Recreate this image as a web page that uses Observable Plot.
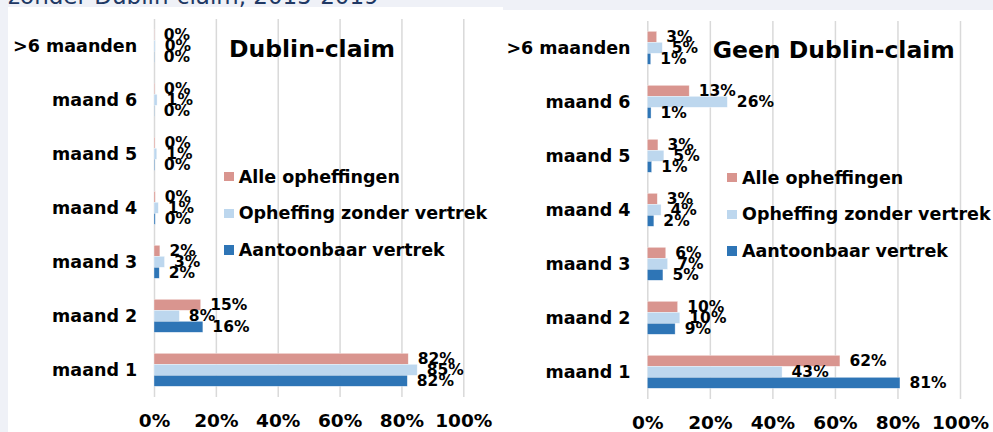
<!DOCTYPE html>
<html>
<head>
<meta charset="utf-8">
<script src="https://cdn.jsdelivr.net/npm/d3@7"></script>
<script src="https://cdn.jsdelivr.net/npm/@observablehq/plot@0.6"></script>
<style>
html, body { margin: 0; padding: 0; background: #eff1f7; }
#root { position: relative; width: 993px; height: 432px; overflow: hidden; background: #eff1f7; font-family: "DejaVu Sans", Verdana, sans-serif; }
.panel { position: absolute; background: #ffffff; }
.abs { position: absolute; line-height: 0; white-space: nowrap; font-weight: bold; color: #000; }
.chart { position: absolute; top: 0; }
.sw { position: absolute; width: 9.5px; height: 9.5px; }
</style>
</head>
<body>
<div id="root"></div>
<script>
// ---------- data ----------
const categories = [">6 maanden", "maand 6", "maand 5", "maand 4", "maand 3", "maand 2", "maand 1"];
const series = ["Alle opheffingen", "Opheffing zonder vertrek", "Aantoonbaar vertrek"];
const seriesColors = ["#d9958f", "#bdd7ee", "#2e75b6"];
const xTicks = [0, 20, 40, 60, 80, 100];

// Dublin-claim (order: >6 maanden ... maand 1)
const dublinAlle    = [0.1, 0.2, 0.3, 0.4, 1.9, 15.1, 82.2];
const dublinZonder  = [0.4, 1.0, 0.9, 1.4, 3.4, 8.2, 85.1];
const dublinVertrek = [0.1, 0.1, 0.2, 0.4, 1.7, 15.8, 81.9];

// Geen Dublin-claim
const geenAlle    = [3.0, 13.4, 3.4, 3.2, 5.9, 9.7, 61.6];
const geenZonder  = [4.8, 25.6, 5.3, 4.4, 6.5, 10.4, 43.1];
const geenVertrek = [1.1, 1.2, 1.4, 2.1, 5.0, 8.9, 80.8];

const pageTitle = "zonder Dublin-claim, 2015-2019";
const titles = ["Dublin-claim", "Geen Dublin-claim"];

function rows(arrs) {
  const out = [];
  categories.forEach((c, i) => series.forEach((s, j) => out.push({category: c, series: s, value: arrs[j][i]})));
  return out;
}

function chart(data, o) {
  return Plot.plot({
    width: o.width,
    height: 432,
    marginLeft: o.ml,
    marginRight: o.width - o.xEnd,
    marginTop: o.mt,
    marginBottom: o.mb,
    style: {background: "transparent", fontFamily: "DejaVu Sans, Verdana, sans-serif", color: "#000", overflow: "visible"},
    x: {domain: [0, 100]},
    fy: {domain: categories, padding: 0},
    y: {domain: series, paddingInner: 0, paddingOuter: 0.88, axis: null},
    color: {domain: series, range: seriesColors},
    marks: [
      Plot.gridX({ticks: xTicks, stroke: "#d9d9d9", strokeOpacity: 1, strokeWidth: 1.5}),
      Plot.barX(data, {x: "value", y: "series", fy: "category", fill: "series",
        insetTop: 0, insetBottom: 0, stroke: "#ffffff", strokeWidth: 0.6, strokeOpacity: 0.6}),
      Plot.text(data, {x: "value", y: "series", fy: "category", text: d => Math.round(d.value) + "%",
        dx: 9, textAnchor: "start", fontSize: 15.5, fontWeight: "bold", fill: "#000"}),
      Plot.axisX({ticks: xTicks, tickSize: 0, tickPadding: o.tp, tickFormat: d => d + "%",
        fontSize: 18.5, fontWeight: "bold", label: null, fill: "#000"}),
      Plot.axisFy({anchor: "left", tickSize: 0, tickPadding: 17.3, fontSize: 17.5, fontWeight: "bold", label: null, fill: "#000"})
    ]
  });
}

const root = document.getElementById("root");

function addDiv(cls, css, text) {
  const d = document.createElement("div");
  d.className = cls;
  Object.assign(d.style, css);
  if (text !== undefined) d.textContent = text;
  root.appendChild(d);
  return d;
}

// page title (cut off at top) and white panels
addDiv("abs", {left: "8px", top: "-4.5px", fontSize: "23px", fontWeight: "normal", color: "#203864"}, pageTitle);
addDiv("panel", {left: "8px", top: "7px", width: "495px", height: "425px"});
addDiv("panel", {left: "503px", top: "10px", width: "490px", height: "422px"});

const left = chart(rows([dublinAlle, dublinZonder, dublinVertrek]),
  {width: 495, ml: 154, xEnd: 463.3, mt: 16.7, mb: 33.2, tp: 16.5});
left.classList.add("chart");
left.style.left = "0px";
root.appendChild(left);

const right = chart(rows([geenAlle, geenZonder, geenVertrek]),
  {width: 498, ml: 152.3, xEnd: 465, mt: 18.7, mb: 31, tp: 16.3});
right.classList.add("chart");
right.style.left = "495px";
root.appendChild(right);

// chart titles
addDiv("abs", {left: "229px", top: "48.7px", fontSize: "23.5px"}, titles[0]);
addDiv("abs", {left: "712.7px", top: "49.5px", fontSize: "23.5px"}, titles[1]);

// legends
function legend(x, ys) {
  series.forEach((s, i) => {
    addDiv("sw", {left: x + "px", top: (ys[i] - 4.75) + "px", background: seriesColors[i]});
    addDiv("abs", {left: (x + 14.7) + "px", top: ys[i] + "px", fontSize: "17.5px"}, s);
  });
}
legend(224, [176.7, 213.3, 250]);
legend(727.3, [177.7, 214.3, 251]);
</script>
</body>
</html>
